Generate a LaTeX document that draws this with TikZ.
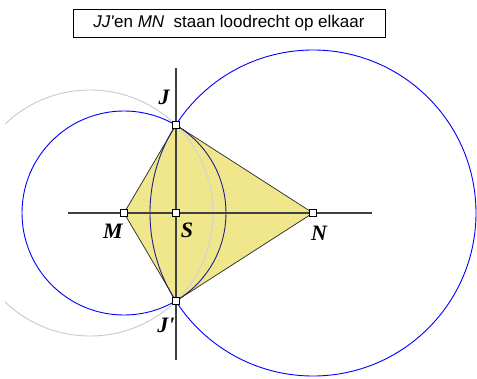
\documentclass[tikz,border=0pt]{standalone}
\usepackage{fontspec}
\setmainfont{Liberation Serif}
\setsansfont{Liberation Sans}
\usetikzlibrary{positioning}
\definecolor{kite}{HTML}{F0E68C}
\definecolor{circ}{HTML}{0000FF}
\definecolor{circin}{HTML}{1E1E8C}
\definecolor{ghost}{HTML}{C8C8C8}
\definecolor{axis}{HTML}{404040}

\begin{document}
\begin{tikzpicture}[x=1pt,y=-1pt,
  pt/.style={draw=black,fill=white,minimum size=7pt,inner sep=0pt,line width=0.7pt},
  lbl/.style={font=\fontsize{22}{22}\selectfont\bfseries\itshape,inner sep=0pt}]
\useasboundingbox (0,0) rectangle (477,378);

% the points
\coordinate (S) at (176,213);
\coordinate (M) at (124,213);
\coordinate (N) at (313,213);
\coordinate (J) at (176,125);
\coordinate (J') at (176,301);
\coordinate (hl) at (68,213);
\coordinate (hr) at (372,213);
\coordinate (vt) at (176,68);
\coordinate (vb) at (176,360);

% grey circle, cut off at the left edge
\begin{scope}
  \clip (5,0) rectangle (477,378);
  \draw[ghost,line width=0.9pt] (90,213) circle (123pt);
\end{scope}

% circles through J and J'
\draw[circ,line width=0.9pt] (M) circle (102pt);
\draw[circ,line width=0.9pt] (N) circle (163pt);

% kite
\fill[kite] (M) -- (J) -- (N) -- (J') -- cycle;
\begin{scope}
  \clip (M) -- (J) -- (N) -- (J') -- cycle;
  \draw[ghost!80,line width=0.9pt] (90,213) circle (123pt);
  \draw[circin,line width=0.9pt] (M) circle (102pt);
  \draw[circin,line width=0.9pt] (N) circle (163pt);
\end{scope}
\draw[black!85,line width=0.7pt] (M) -- (J) -- (N) -- (J') -- cycle;

% axes
\draw[axis,line width=1.1pt] (hl) -- (hr);
\draw[axis,line width=1.1pt] (vt) -- (vb);

% markers
\foreach \p in {S,M,N,J,J'} \node[pt] (p\p) at (\p) {};

% labels
\node[lbl] (lJ) at (164,97) {J};
\node[lbl] (lJ') at (166,325) {J\textquotesingle};
\node[lbl] (lM) at (113,231) {M};
\node[lbl] (lS) at (187,230) {S};
\node[lbl] (lN) at (319,233) {N};

% caption
\node[draw=black,line width=0.8pt,minimum width=312pt,minimum height=28pt,inner sep=0pt,
  font=\sffamily\fontsize{17}{17}\selectfont] (title) at (229,23)
  {\textit{JJ\textquotesingle}en \textit{MN}\ \ staan loodrecht op elkaar};
\end{tikzpicture}
\end{document}
